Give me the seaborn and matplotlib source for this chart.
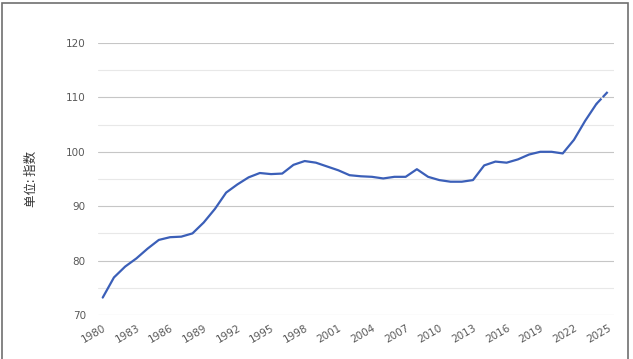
import matplotlib
matplotlib.use("Agg")
import matplotlib.pyplot as plt
from matplotlib.patches import Rectangle
from matplotlib.ticker import MultipleLocator
import seaborn as sns
import pandas as pd

# === Data ===
years = list(range(1980, 2026))
index_values = [
    73.2, 76.9, 78.9, 80.4, 82.2, 83.8, 84.3, 84.4, 85.0, 87.0,
    89.5, 92.5, 94.0, 95.3, 96.1, 95.9, 96.0, 97.6, 98.3, 98.0,
    97.3, 96.6, 95.7, 95.5, 95.4, 95.1, 95.4, 95.4, 96.8, 95.4,
    94.8, 94.5, 94.5, 94.8, 97.5, 98.2, 98.0, 98.6, 99.5, 100.0,
    100.0, 99.7, 102.2, 105.7, 108.8, 111.0,
]
tick_years = list(range(1980, 2026, 3))
y_label = "单位: 指数"

df = pd.DataFrame({"year": years, "value": index_values})

# === Style ===
sns.set_theme(style="white")
plt.rcParams["font.family"] = ["DejaVu Sans", "Noto Sans CJK SC"]
plt.rcParams["lines.scale_dashes"] = False

line_color = "#3b5fb8"
text_color = "#595959"

fig = plt.figure(figsize=(6.33, 3.59), dpi=100)
ax = fig.add_axes([0.1543, 0.1226, 0.8157, 0.7576])

# main line up to 2024, last (estimate) segment with a small break
sns.lineplot(data=df.iloc[:-1], x="year", y="value", ax=ax,
             color=line_color, linewidth=1.6)
sns.lineplot(data=df.iloc[-2:], x="year", y="value", ax=ax,
             color=line_color, linewidth=1.6, linestyle=(0, (5.3, 1.4, 20, 0)))

ax.set_xlim(1979.55, 2025.57)
ax.set_ylim(70, 120)
ax.yaxis.set_major_locator(MultipleLocator(10))
ax.yaxis.set_minor_locator(MultipleLocator(5))
ax.set_xticks(tick_years)
ax.set_xticklabels([str(y) for y in tick_years], rotation=30, ha="right",
                   rotation_mode="anchor", fontsize=7.5, color=text_color)
ax.tick_params(axis="x", length=0, pad=6)
ax.tick_params(axis="y", which="both", length=0, pad=8.5, labelsize=7.5,
               labelcolor=text_color)

ax.grid(False)
ax.grid(axis="y", which="major", color="#c6c6c6", linewidth=0.8)
ax.grid(axis="y", which="minor", color="#e8e8e8", linewidth=0.8)
ax.set_axisbelow(True)
for s in ax.spines.values():
    s.set_visible(False)

ax.set_xlabel("")
ax.set_ylabel(y_label, family=["Noto Sans CJK SC", "DejaVu Sans"],
              fontsize=9, color="#333333")
ax.yaxis.set_label_coords(-0.115, 0.5)

# outer frame
fig.patches.append(Rectangle((1.5 / 633, -0.02), 626 / 633, 1 + 0.02 - 3 / 359,
                             transform=fig.transFigure, fill=False,
                             edgecolor="#707070", linewidth=1.2))

fig.savefig("out.png", dpi=100)
